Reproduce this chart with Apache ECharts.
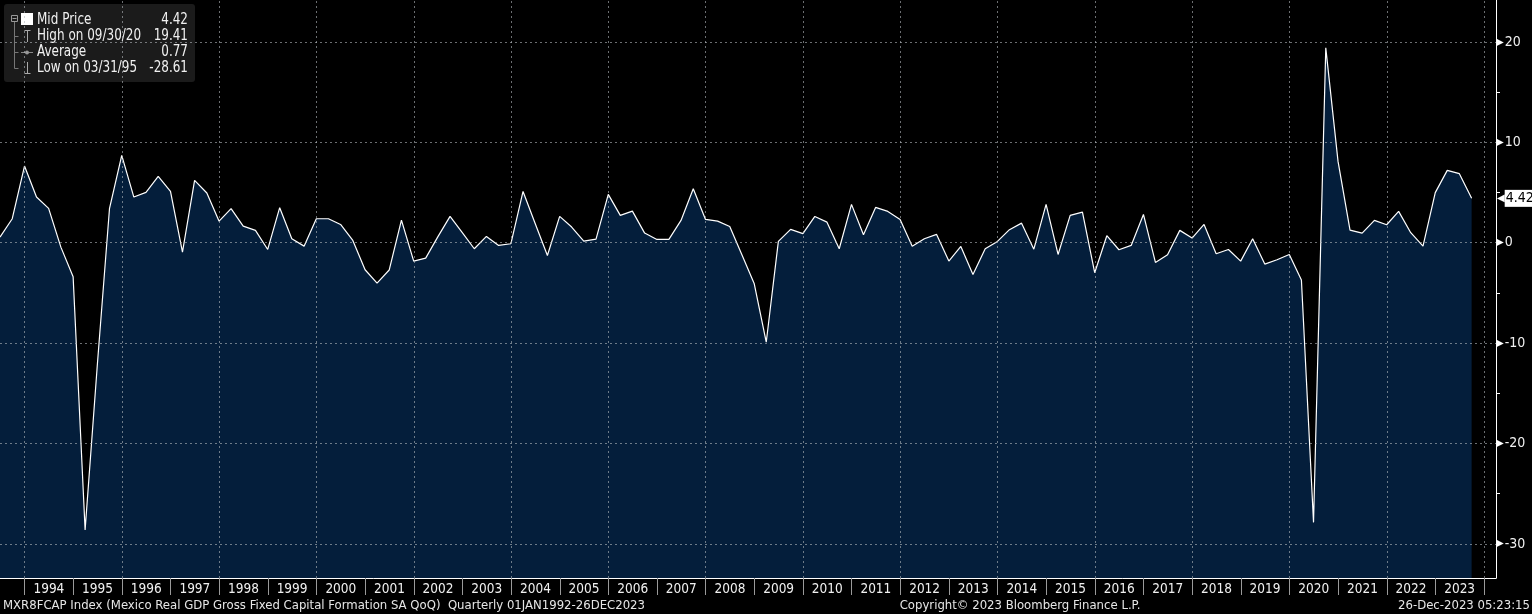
<!DOCTYPE html>
<html><head><meta charset="utf-8">
<script src="https://cdn.jsdelivr.net/npm/echarts@6/dist/echarts.min.js"></script>
<style>html,body{margin:0;padding:0;background:#000;}#c{width:1532px;height:614px;}</style>
</head><body><div id="c"></div>
<script>
// ---- data ----
const startYear = 1993;
const startQuarter = 2; // first observation: Q2 1993
const quarterEndMonthDay = [[2,31],[5,30],[8,30],[11,31]];
const values = [
  0.56, 2.39, 7.64,
  4.55, 3.42, -0.44, -3.39,
  -28.61, -12.3, 3.39, 8.70,
  4.55, 5.01, 6.61, 5.11,
  -0.94, 6.21, 4.95, 2.15,
  3.39, 1.66, 1.23, -0.67,
  3.49, 0.40, -0.34, 2.39,
  2.39, 1.82, 0.23, -2.69,
  -4.03, -2.72, 2.25, -1.83,
  -1.53, 0.58, 2.62, 1.01,
  -0.60, 0.63, -0.27, -0.10,
  5.11, 1.92, -1.27, 2.62,
  1.56, 0.16, 0.36, 4.82,
  2.72, 3.15, 0.96, 0.33,
  0.33, 2.22, 5.38, 2.32,
  2.15, 1.62, -1.23, -4.09,
  -9.91, 0.14, 1.33, 0.90,
  2.62, 2.05, -0.60, 3.82,
  0.80, 3.52, 3.12, 2.32,
  -0.34, 0.40, 0.83, -1.83,
  -0.37, -3.16, -0.60, 0.13,
  1.30, 1.95, -0.64, 3.82,
  -1.17, 2.72, 3.05, -2.99,
  0.70, -0.70, -0.27, 2.82,
  -1.96, -1.20, 1.23, 0.46,
  1.82, -1.10, -0.67, -1.83,
  0.40, -2.13, -1.70, -1.17,
  -3.72, -27.86, 19.41, 8.10,
  1.25, 0.96, 2.22, 1.79,
  3.12, 1.00, -0.34, 4.99,
  7.21, 6.88, 4.42
];
const yearLabels = [1994,1995,1996,1997,1998,1999,2000,2001,2002,2003,2004,2005,2006,2007,2008,2009,2010,2011,2012,2013,2014,2015,2016,2017,2018,2019,2020,2021,2022,2023];
const yearBoundaries = [1994,1995,1996,1997,1998,1999,2000,2001,2002,2003,2004,2005,2006,2007,2008,2009,2010,2011,2012,2013,2014,2015,2016,2017,2018,2019,2020,2021,2022,2023,2024];
const gridYears = [1994,1996,1998,2000,2002,2004,2006,2008,2010,2012,2014,2016,2018,2020,2022,2024];
const yTickLabels = [-30,-20,-10,0,10,20];
const yMinorTicks = [-25,-15,-5,5,15];
const lastValue = 4.42;
const legendRows = [
  ['Mid Price','4.42'],
  ['High on 09/30/20','19.41'],
  ['Average','0.77'],
  ['Low on 03/31/95','-28.61']
];
const footerLeft = 'MXR8FCAP Index (Mexico Real GDP Gross Fixed Capital Formation SA QoQ)  Quarterly 01JAN1992-26DEC2023';
const footerCenter = 'Copyright\u00A9 2023 Bloomberg Finance L.P.';
const footerRight = '26-Dec-2023 05:23:15';

// ---- build ----
const ts = (y,m,d) => Date.UTC(y,m,d);
const seriesData = values.map((v,i) => {
  const q = startQuarter - 1 + i;
  const y = startYear + Math.floor(q/4);
  const md = quarterEndMonthDay[q%4];
  return [ts(y, md[0], md[1]), v];
});
const FONT = '"Liberation Sans Narrow","Arial Narrow","DejaVu Sans Condensed",sans-serif';
const GRID = 'rgba(180,185,190,0.6)';

const legendGraphics = [
  {type:'rect', shape:{x:4,y:4,width:191,height:78,r:3}, style:{fill:'#1b1b1b'}},
  {type:'rect', shape:{x:11.5,y:15.5,width:6,height:6}, style:{fill:'none',stroke:'#999',lineWidth:1}},
  {type:'line', shape:{x1:12.5,y1:18.5,x2:16.5,y2:18.5}, style:{stroke:'#999',lineWidth:1}},
  {type:'line', shape:{x1:14.5,y1:22,x2:14.5,y2:68.5}, style:{stroke:'#777',lineWidth:1}},
  {type:'rect', shape:{x:21,y:13,width:12,height:12}, style:{fill:'#fff'}},
  {type:'line', shape:{x1:24.5,y1:30.5,x2:30.5,y2:30.5}, style:{stroke:'#aaa',lineWidth:1}},
  {type:'line', shape:{x1:27.5,y1:30.5,x2:27.5,y2:42}, style:{stroke:'#aaa',lineWidth:1}},
  {type:'line', shape:{x1:21,y1:52.5,x2:33,y2:52.5}, style:{stroke:'#888',lineWidth:1}},
  {type:'circle', shape:{cx:27,cy:52.5,r:2}, style:{fill:'#999'}},
  {type:'line', shape:{x1:27.5,y1:62,x2:27.5,y2:73.5}, style:{stroke:'#aaa',lineWidth:1}},
  {type:'line', shape:{x1:24.5,y1:73.5,x2:30.5,y2:73.5}, style:{stroke:'#aaa',lineWidth:1}}
];
[36,52,68].forEach(y => legendGraphics.push({type:'line', shape:{x1:14.5,y1:y+0.5,x2:18.5,y2:y+0.5}, style:{stroke:'#777',lineWidth:1}}));
legendRows.forEach((r,i) => {
  const y = 20 + i*16;
  legendGraphics.push({type:'text', x:37, y:y, scaleX:0.89, style:{text:r[0], fill:'#f0f0f0', font:'15px '+FONT, textVerticalAlign:'middle', textAlign:'left'}});
  legendGraphics.push({type:'text', x:188, y:y, scaleX:0.89, style:{text:r[1], fill:'#f0f0f0', font:'15px '+FONT, textVerticalAlign:'middle', textAlign:'right'}});
});
const footerGraphics = [
  {type:'text', x:3, y:606, style:{text:footerLeft, fill:'#e6e6e6', font:'13px '+FONT, textVerticalAlign:'middle', textAlign:'left'}},
  {type:'text', x:1020, y:606, style:{text:footerCenter, fill:'#e6e6e6', font:'13px '+FONT, textVerticalAlign:'middle', textAlign:'center'}},
  {type:'text', x:1530, y:606, style:{text:footerRight, fill:'#e6e6e6', font:'13px '+FONT, textVerticalAlign:'middle', textAlign:'right'}}
];

const chart = echarts.init(document.getElementById('c'));
chart.setOption({
  backgroundColor:'#000',
  animation:false,
  grid:{left:0,right:36,top:0,bottom:36, containLabel:false, outerBoundsMode:'none'},
  xAxis:{
    type:'value',
    min: ts(1993,5,30), max: ts(2024,2,31),
    axisLine:{show:true, onZero:false, lineStyle:{color:'#fff', width:1}},
    axisTick:{show:true, customValues: yearBoundaries.map(y=>ts(y,0,1)), length:17, lineStyle:{color:'#9a9a9a'}},
    axisLabel:{show:true, customValues: yearLabels.map(y=>ts(y,6,2)), formatter: v => String(new Date(v).getUTCFullYear()),
      color:'#f0f0f0', fontFamily:FONT, fontSize:13.5, margin:4, hideOverlap:false},
    splitLine:{show:false}
  },
  yAxis:[{
    type:'value', position:'right', min:-33.4, max:24.18,
    axisLine:{show:true, onZero:false, lineStyle:{color:'#fff'}},
    axisTick:{show:true, customValues:yMinorTicks, length:4, lineStyle:{color:'#fff'}},
    axisLabel:{customValues:yTickLabels, margin:0, formatter: v => '{t|\u25B6}{v|' + v + '}',
      rich:{t:{color:'#fff', fontSize:10, fontFamily:'DejaVu Sans'}, v:{color:'#f0f0f0', fontSize:14, fontFamily:FONT, padding:[0,0,0,1]}}},
    splitLine:{show:false}
  },{
    type:'value', position:'right', min:-33.4, max:24.18,
    axisLine:{show:false}, axisTick:{show:false}, splitLine:{show:false},
    axisLabel:{customValues:[lastValue], margin:1, formatter: v => '{a|\u25C0}{b|' + Number(v).toFixed(2) + '}',
      rich:{a:{color:'#fff', fontSize:10, fontFamily:'DejaVu Sans'}, b:{backgroundColor:'#fff', color:'#000', fontSize:14, fontFamily:FONT, padding:[2,1,1,1]}}}
  }],
  series:[{
    type:'line', data:seriesData, symbol:'none', showSymbol:false,
    lineStyle:{color:'#fff', width:1.2},
    areaStyle:{color:'#041e3b', opacity:1, origin:'start'},
    markLine:{
      silent:true, symbol:'none', label:{show:false}, animation:false,
      lineStyle:{type:[2,3], color:GRID, width:1},
      data: yTickLabels.map(v=>({yAxis:v})).concat(gridYears.map(y=>({xAxis:ts(y,0,1)})))
    }
  }],
  graphic: legendGraphics.concat(footerGraphics)
});
</script></body></html>
